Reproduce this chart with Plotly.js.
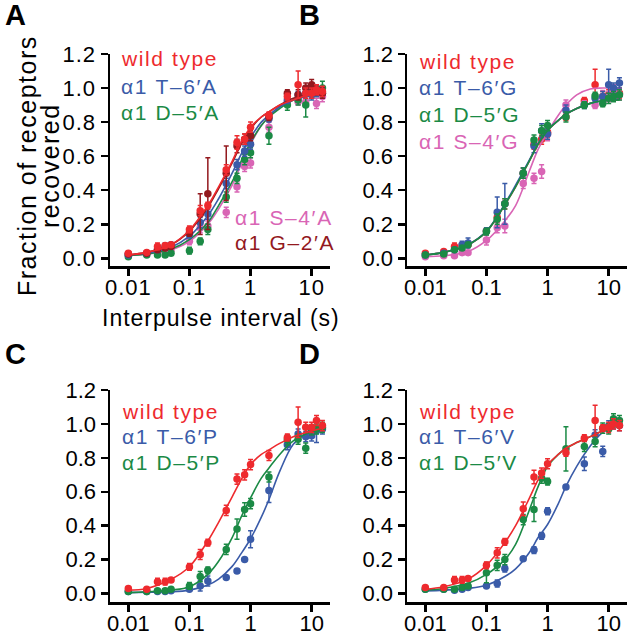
<!DOCTYPE html>
<html>
<head>
<meta charset="utf-8">
<script src="https://cdn.plot.ly/plotly-3.0.1.min.js"></script>
<style>
  html, body { margin: 0; padding: 0; background: #fff; }
  #chart { width: 628px; height: 640px; }
  .annotation-text { letter-spacing: 1.6px; }
  .xtick text, .ytick text { letter-spacing: 1px; }
</style>
</head>
<body>
<div id="chart"></div>
<script>
// ---------- shared x values (interpulse interval, s) ----------
const intervals = [0.01,0.02,0.03,0.04,0.05,0.1,0.15,0.2,0.4,0.6,0.8,1,2,4,6,8,10,12,15];
const curveX    = [0.01,0.02,0.05,0.1,0.2,0.3,0.5,0.7,1,1.5,2,3,5,8,15];

// ---------- Panel A ----------
const A_wt      = [0.03,0.035,0.07,0.075,0.08,0.17,0.28,0.31,0.52,0.68,0.70,0.77,0.84,0.95,1.02,0.97,0.97,0.99,0.98];
const A_wt_err  = [0.01,0.01,0.02,0.01,0.01,0.02,0.03,0.02,0.03,0.04,0.03,0.03,0.02,0.02,0.08,0.03,0.03,0.03,0.03];
const A_G2      = [0.025,0.03,0.05,0.06,0.07,0.15,0.26,0.38,0.50,0.66,0.70,0.72,0.83,0.97,0.96,1.0,1.02,0.99,0.97];
const A_G2_err  = [0.01,0.01,0.01,0.01,0.01,0.02,0.12,0.21,0.16,0.04,0.03,0.03,0.02,0.02,0.03,0.03,0.03,0.03,0.03];
const A_T6      = [0.02,0.03,0.05,0.07,0.08,0.14,0.21,0.26,0.44,0.55,0.63,0.67,0.82,0.93,0.96,0.97,0.96,0.98,0.97];
const A_T6_err  = [0.01,0.01,0.01,0.02,0.01,0.02,0.03,0.03,0.03,0.03,0.03,0.03,0.02,0.02,0.02,0.03,0.03,0.03,0.03];
const A_D5      = [0.01,0.02,0.02,0.02,0.03,0.045,0.10,0.17,0.36,0.47,0.58,0.62,0.72,0.90,0.93,0.90,0.97,0.98,1.0];
const A_D5_err  = [0.01,0.01,0.01,0.01,0.01,0.02,0.02,0.03,0.03,0.03,0.03,0.03,0.05,0.03,0.03,0.07,0.03,0.03,0.04];
const A_S4      = [0.025,0.025,0.035,0.04,0.05,0.10,0.18,0.19,0.27,0.42,0.54,0.56,0.77,0.92,0.92,0.92,0.97,0.91,0.95];
const A_S4_err  = [0.01,0.01,0.01,0.01,0.01,0.02,0.03,0.03,0.03,0.03,0.03,0.03,0.03,0.02,0.02,0.03,0.03,0.03,0.03];
const A_wt_c    = [0.02,0.035,0.08,0.165,0.31,0.42,0.57,0.68,0.77,0.83,0.86,0.90,0.93,0.955,0.97];
const A_G2_c    = [0.02,0.035,0.08,0.16,0.30,0.41,0.56,0.67,0.76,0.83,0.86,0.90,0.94,0.96,0.98];
const A_T6_c    = [0.02,0.03,0.065,0.13,0.25,0.35,0.50,0.61,0.71,0.80,0.84,0.89,0.93,0.95,0.97];
const A_D5_c    = [0.015,0.025,0.055,0.11,0.21,0.31,0.45,0.57,0.68,0.78,0.83,0.88,0.93,0.95,0.97];
const A_S4_c    = [0.015,0.025,0.05,0.10,0.20,0.29,0.43,0.55,0.67,0.78,0.83,0.89,0.93,0.95,0.96];

// ---------- Panel B ----------
const B_wt      = [0.03,0.04,0.07,0.075,0.08,0.16,0.24,0.32,0.50,0.67,0.70,0.74,0.83,0.925,1.02,0.95,0.96,0.98,0.97];
const B_wt_err  = [0.01,0.01,0.02,0.01,0.01,0.02,0.03,0.03,0.03,0.03,0.03,0.03,0.02,0.02,0.09,0.03,0.03,0.03,0.03];
const B_T6      = [0.02,0.03,0.05,0.08,0.09,0.16,0.27,0.32,0.50,0.66,0.75,0.73,0.87,0.90,0.94,0.95,1.02,1.0,1.03];
const B_T6_err  = [0.01,0.01,0.01,0.02,0.03,0.02,0.09,0.12,0.03,0.04,0.04,0.03,0.03,0.02,0.02,0.03,0.09,0.03,0.03];
const B_D5      = [0.02,0.025,0.05,0.06,0.08,0.157,0.23,0.32,0.50,0.695,0.75,0.78,0.83,0.90,0.955,0.91,0.94,0.95,0.96];
const B_D5_err  = [0.01,0.01,0.01,0.01,0.01,0.02,0.03,0.03,0.03,0.03,0.03,0.03,0.03,0.02,0.02,0.02,0.03,0.03,0.03];
const B_S4      = [0.01,0.015,0.015,0.033,0.033,0.108,0.18,0.19,0.44,0.47,0.51,0.73,0.90,0.905,0.90,0.945,0.95,0.99,0.96];
const B_S4_err  = [0.01,0.01,0.01,0.01,0.01,0.03,0.03,0.04,0.03,0.03,0.04,0.04,0.03,0.02,0.02,0.04,0.03,0.03,0.03];
const B_wt_c    = [0.02,0.035,0.08,0.157,0.315,0.42,0.57,0.67,0.75,0.81,0.846,0.88,0.91,0.925,0.93];
const B_T6_c    = [0.02,0.035,0.08,0.160,0.32,0.43,0.575,0.675,0.755,0.81,0.846,0.88,0.91,0.925,0.935];
const B_D5_c    = [0.02,0.035,0.08,0.157,0.315,0.42,0.57,0.67,0.75,0.81,0.846,0.88,0.91,0.925,0.93];
const B_S4_c    = [0.01,0.015,0.04,0.105,0.22,0.31,0.51,0.64,0.74,0.84,0.90,0.96,0.995,1.0,1.0];

// ---------- Panel C ----------
const C_wt      = [0.03,0.025,0.07,0.07,0.08,0.157,0.23,0.30,0.49,0.675,0.70,0.76,0.814,0.92,1.01,0.98,0.98,1.02,0.99];
const C_wt_err  = [0.01,0.01,0.02,0.02,0.01,0.02,0.03,0.02,0.03,0.03,0.03,0.03,0.03,0.02,0.09,0.03,0.03,0.03,0.03];
const C_D5      = [0.012,0.012,0.016,0.016,0.025,0.045,0.10,0.137,0.26,0.38,0.495,0.53,0.687,0.906,0.91,0.857,0.965,0.97,0.98];
const C_D5_err  = [0.01,0.01,0.01,0.01,0.01,0.02,0.03,0.02,0.03,0.06,0.04,0.03,0.03,0.03,0.03,0.03,0.03,0.03,0.03];
const C_T6      = [0.012,0.012,0.012,0.012,0.016,0.025,0.045,0.074,0.094,0.133,0.20,0.32,0.607,0.877,0.94,0.925,0.93,0.96,0.97];
const C_T6_err  = [0.01,0.01,0.01,0.01,0.01,0.01,0.03,0.03,0.01,0.01,0.01,0.05,0.07,0.03,0.03,0.03,0.03,0.07,0.03];
const C_wt_c    = [0.02,0.03,0.084,0.158,0.31,0.42,0.57,0.67,0.76,0.82,0.847,0.885,0.925,0.95,0.975];
const C_D5_c    = [0.005,0.01,0.02,0.04,0.113,0.19,0.33,0.45,0.564,0.68,0.74,0.82,0.90,0.94,0.97];
const C_T6_c    = [0.005,0.008,0.01,0.02,0.05,0.085,0.16,0.235,0.323,0.45,0.554,0.72,0.88,0.94,0.97];

// ---------- Panel D ----------
const D_wt      = [0.035,0.035,0.08,0.08,0.088,0.166,0.24,0.305,0.50,0.687,0.71,0.765,0.83,0.916,1.02,0.975,0.98,1.0,0.99];
const D_wt_err  = [0.01,0.01,0.02,0.02,0.01,0.02,0.03,0.02,0.04,0.04,0.03,0.03,0.02,0.02,0.09,0.02,0.03,0.03,0.03];
const D_D5      = [0.025,0.025,0.025,0.035,0.045,0.123,0.166,0.20,0.436,0.495,0.68,0.66,0.853,0.867,0.896,0.975,0.97,1.03,1.02];
const D_D5_err  = [0.01,0.01,0.01,0.01,0.01,0.06,0.03,0.03,0.03,0.07,0.03,0.02,0.13,0.03,0.03,0.03,0.03,0.03,0.03];
const D_T6      = [0.025,0.025,0.02,0.025,0.035,0.045,0.059,0.147,0.205,0.256,0.34,0.485,0.628,0.765,0.935,0.838,0.988,1.0,0.99];
const D_T6_err  = [0.01,0.01,0.01,0.01,0.01,0.01,0.02,0.02,0.01,0.02,0.02,0.02,0.01,0.04,0.03,0.03,0.03,0.03,0.03];
const D_wt_c    = [0.025,0.04,0.085,0.166,0.30,0.40,0.56,0.67,0.76,0.82,0.857,0.89,0.925,0.96,0.994];
const D_D5_c    = [0.02,0.03,0.06,0.113,0.20,0.29,0.49,0.63,0.75,0.82,0.857,0.89,0.925,0.96,0.99];
const D_T6_c    = [0.015,0.02,0.03,0.049,0.10,0.145,0.24,0.33,0.407,0.53,0.632,0.75,0.87,0.95,1.0];

// ---------- legend labels ----------
const A_labels = ['wild type','\u03b11 T\u20136\u2032A','\u03b11 D\u20135\u2032A'];
const A_labels2 = ['\u03b11 S\u20134\u2032A','\u03b11 G\u20132\u2032A'];
const B_labels = ['wild type','\u03b11 T\u20136\u2032G','\u03b11 D\u20135\u2032G','\u03b11 S\u20134\u2032G'];
const C_labels = ['wild type','\u03b11 T\u20136\u2032P','\u03b11 D\u20135\u2032P'];
const D_labels = ['wild type','\u03b11 T\u20136\u2032V','\u03b11 D\u20135\u2032V'];
const tickVals = [0.01,0.1,1,10];
const tickText = ['0.01','0.1','1','10'];
const yTickVals = [0,0.2,0.4,0.6,0.8,1.0,1.2];
const yTickText = ['0.0','0.2','0.4','0.6','0.8','1.0','1.2'];

// ---------- styles ----------
const RED = '#ee2a2e', BLUE = '#3a5ba8', GREEN = '#1b8a45', PINK = '#d965b5', DKRED = '#93191e';
const FONT = 'Liberation Sans, Arial, Helvetica, sans-serif';
const W = 628, H = 640;

const traces = [];
function addSeries(ax, y, err, yc, color) {
  const xa = 'x' + (ax === 1 ? '' : ax), ya = 'y' + (ax === 1 ? '' : ax);
  traces.push({x: curveX, y: yc, xaxis: xa, yaxis: ya, mode: 'lines', type: 'scatter',
    line: {color: color, width: 1.6, shape: 'spline', smoothing: 1}, hoverinfo: 'skip', showlegend: false});
  traces.push({x: intervals, y: y, xaxis: xa, yaxis: ya, mode: 'markers', type: 'scatter',
    marker: {color: color, size: 7.5}, showlegend: false,
    error_y: {type: 'data', array: err, color: color, thickness: 1.5, width: 2.5}});
}
addSeries(1, A_S4, A_S4_err, A_S4_c, PINK);
addSeries(1, A_D5, A_D5_err, A_D5_c, GREEN);
addSeries(1, A_T6, A_T6_err, A_T6_c, BLUE);
addSeries(1, A_G2, A_G2_err, A_G2_c, DKRED);
addSeries(1, A_wt, A_wt_err, A_wt_c, RED);

addSeries(2, B_wt, B_wt_err, B_wt_c, RED);
addSeries(2, B_S4, B_S4_err, B_S4_c, PINK);
addSeries(2, B_T6, B_T6_err, B_T6_c, BLUE);
addSeries(2, B_D5, B_D5_err, B_D5_c, GREEN);

addSeries(3, C_T6, C_T6_err, C_T6_c, BLUE);
addSeries(3, C_D5, C_D5_err, C_D5_c, GREEN);
addSeries(3, C_wt, C_wt_err, C_wt_c, RED);

addSeries(4, D_T6, D_T6_err, D_T6_c, BLUE);
addSeries(4, D_D5, D_D5_err, D_D5_c, GREEN);
addSeries(4, D_wt, D_wt_err, D_wt_c, RED);

// pixel -> paper helpers
const px = v => v / W;
const py = v => 1 - v / H;

function xAxis(l, r, anchor) {
  return {type: 'log', domain: [px(l), px(r)], range: [-2.3, 1.3], anchor: anchor,
    showline: true, linewidth: 2.5, linecolor: '#000', mirror: false,
    ticks: 'outside', ticklen: 7, tickwidth: 2.5, tickcolor: '#000', ticklabelstandoff: -7,
    tickvals: tickVals, ticktext: tickText, showgrid: false, zeroline: false,
    tickfont: {family: FONT, size: 22, color: '#000'}, fixedrange: true};
}
function yAxis(t, b, anchor, lo) {
  return {domain: [py(b), py(t)], range: [lo, 1.2], anchor: anchor,
    showline: true, linewidth: 2.5, linecolor: '#000', mirror: false,
    ticks: 'outside', ticklen: 7, tickwidth: 2.5, tickcolor: '#000',
    tickvals: yTickVals, ticktext: yTickText, showgrid: false, zeroline: false,
    tickfont: {family: FONT, size: 22, color: '#000'}, fixedrange: true};
}

const annotations = [];
function label(text, x, y, color, size, opts) {
  annotations.push(Object.assign({text: text, x: px(x), y: py(y), xref: 'paper', yref: 'paper',
    xanchor: 'left', yanchor: 'middle', showarrow: false,
    font: {family: FONT, size: size, color: color}}, opts || {}));
}
// panel letters
label('<b>A</b>', 3, 15, '#000', 29);
label('<b>B</b>', 297, 15, '#000', 29);
label('<b>C</b>', 3, 354, '#000', 29);
label('<b>D</b>', 297, 354, '#000', 29);
// legends
const colA = [RED, BLUE, GREEN];
A_labels.forEach((t, i) => label(t, 119, 59 + 27 * i, colA[i], 21));
label(A_labels2[0], 233, 217, PINK, 21);
label(A_labels2[1], 233, 243, DKRED, 21);
const colB = [RED, BLUE, GREEN, PINK];
B_labels.forEach((t, i) => label(t, 417, 61 + 26.7 * i, colB[i], 21));
C_labels.forEach((t, i) => label(t, 120, 411 + 25.5 * i, colA[i], 21));
D_labels.forEach((t, i) => label(t, 417, 411 + 25.5 * i, colA[i], 21));
// axis titles
label('<span style="letter-spacing:1px">Interpulse interval (s)</span>', 221, 318, '#000', 23, {xanchor: 'center'});
label('<span style="letter-spacing:1.5px">Fraction of receptors</span>', 27, 166, '#000', 25, {xanchor: 'center', textangle: -90});
label('<span style="letter-spacing:1.5px">recovered</span>', 50, 166, '#000', 25, {xanchor: 'center', textangle: -90});

const layout = {
  width: W, height: H, margin: {l: 0, r: 0, t: 0, b: 0},
  paper_bgcolor: '#fff', plot_bgcolor: '#fff', showlegend: false,
  font: {family: FONT, color: '#000'},
  xaxis:  xAxis(110, 330, 'y'),
  yaxis:  yAxis(54, 266, 'x', -0.045),
  xaxis2: xAxis(407, 627, 'y2'),
  yaxis2: yAxis(54, 266, 'x2', -0.045),
  xaxis3: xAxis(110, 330, 'y3'),
  yaxis3: yAxis(390, 602, 'x3', -0.05),
  xaxis4: xAxis(407, 627, 'y4'),
  yaxis4: yAxis(390, 602, 'x4', -0.05),
  annotations: annotations
};

Plotly.newPlot('chart', traces, layout, {staticPlot: true, displayModeBar: false});
</script>
</body>
</html>
